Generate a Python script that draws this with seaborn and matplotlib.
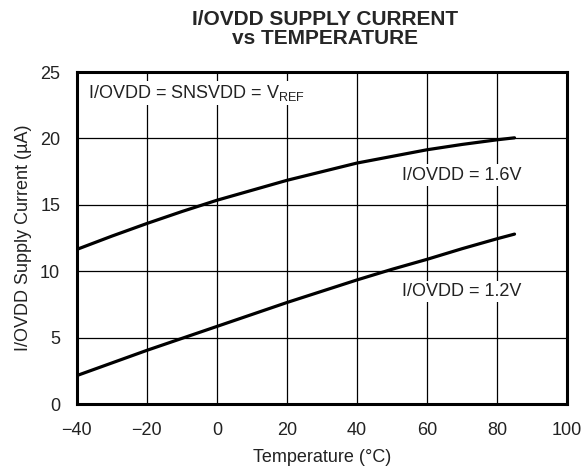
import numpy as np
import pandas as pd
import matplotlib
matplotlib.use("Agg")
import matplotlib.pyplot as plt
import seaborn as sns

# values
temps = [-40, -30, -20, -10, 0, 10, 20, 30, 40, 50, 60, 70, 80, 85]
cur_16v = [11.65, 12.65, 13.6, 14.5, 15.35, 16.1, 16.85, 17.5, 18.15, 18.65, 19.15, 19.55, 19.9, 20.05]
cur_12v = [2.15, 3.1, 4.05, 4.95, 5.85, 6.75, 7.65, 8.5, 9.35, 10.15, 10.9, 11.7, 12.45, 12.8]
series = ["I/OVDD = 1.6V", "I/OVDD = 1.2V"]
x_ticks = [-40, -20, 0, 20, 40, 60, 80, 100]
y_ticks = [0, 5, 10, 15, 20, 25]

sns.set_style("white")
plt.rcParams["font.family"] = ["Liberation Sans", "DejaVu Sans"]
plt.rcParams["mathtext.fontset"] = "custom"
plt.rcParams["mathtext.rm"] = "Liberation Sans"

df = pd.DataFrame({
    "temp": temps * 2,
    "current": cur_16v + cur_12v,
    "series": [series[0]] * len(temps) + [series[1]] * len(temps),
})

fig = plt.figure(figsize=(5.87, 4.71), dpi=100)
ax = fig.add_axes([0.131, 0.142, 0.835, 0.705])

sns.lineplot(data=df, x="temp", y="current", hue="series",
             palette=["black", "black"], linewidth=2.3, legend=False, ax=ax)

ax.set_xlim(-40, 100)
ax.set_ylim(0, 25)
ax.set_xticks(x_ticks)
ax.set_yticks(y_ticks)
ax.grid(True, color="black", linewidth=0.9)
ax.set_axisbelow(True)
for s in ax.spines.values():
    s.set_linewidth(2.2)
    s.set_color("black")
ax.tick_params(axis="both", labelsize=13, length=0, colors="#222222")
ax.tick_params(axis="x", pad=13)
ax.tick_params(axis="y", pad=12)

ax.set_xlabel("Temperature (°C)", fontsize=13, color="#222222", labelpad=7)
ax.set_ylabel("I/OVDD Supply Current (µA)", fontsize=13, color="#222222", labelpad=6)
ax.set_title("I/OVDD SUPPLY CURRENT\nvs TEMPERATURE", fontsize=15,
             fontweight="bold", pad=20, linespacing=1.05, x=0.506)

box = dict(facecolor="white", edgecolor="none", pad=1.5)
ax.text(-36.9, 23.4, r"I/OVDD = SNSVDD = V$_{\mathregular{REF}}$", fontsize=13,
        ha="left", va="center", color="#222222", bbox=box)
ax.text(69.9, 17.25, series[0], fontsize=13, ha="center", va="center",
        color="#222222", bbox=box)
ax.text(69.9, 8.5, series[1], fontsize=13, ha="center", va="center",
        color="#222222", bbox=box)

fig.savefig("out.png", dpi=100)
